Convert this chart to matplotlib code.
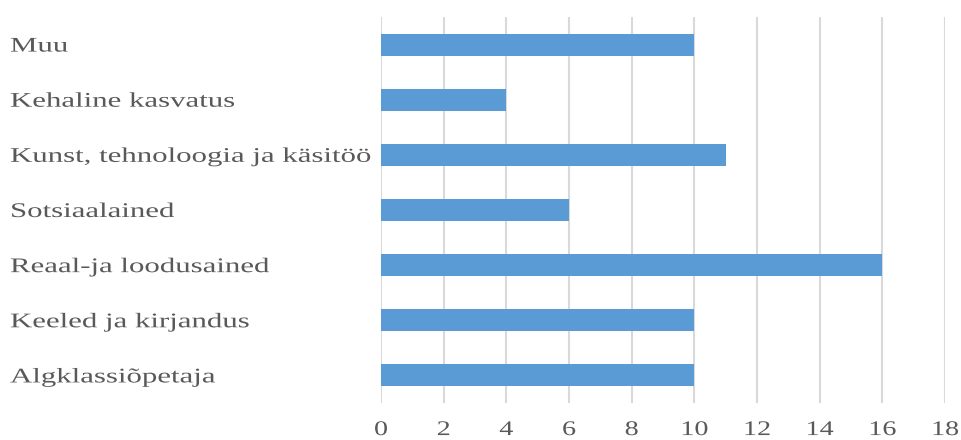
import matplotlib
matplotlib.use("Agg")
import matplotlib.pyplot as plt
from matplotlib.patheffects import AbstractPathEffect
from matplotlib.transforms import Affine2D

categories = [
    "Algklassiõpetaja",
    "Keeled ja kirjandus",
    "Reaal-ja loodusained",
    "Sotsiaalained",
    "Kunst, tehnoloogia ja käsitöö",
    "Kehaline kasvatus",
    "Muu",
]
values = [10, 10, 16, 6, 11, 4, 10]
x_ticks = [0, 2, 4, 6, 8, 10, 12, 14, 16, 18]


class HStretch(AbstractPathEffect):
    """Widen glyphs horizontally about a fixed display x position."""

    def __init__(self, sx, x0):
        super().__init__()
        self.sx = sx
        self.x0 = x0

    def draw_path(self, renderer, gc, tpath, affine, rgbFace=None):
        t = affine + Affine2D().translate(-self.x0, 0).scale(self.sx, 1).translate(self.x0, 0)
        renderer.draw_path(gc, tpath, t, rgbFace)


plt.rcParams["font.family"] = ["Liberation Serif", "DejaVu Serif"]

DPI = 100
fig = plt.figure(figsize=(9.61, 4.40), dpi=DPI)
ax = fig.add_axes([381 / 961, 1 - 403 / 440, (945 - 381) / 961, (403 - 17) / 440])

ypos = list(range(len(categories)))
ax.barh(ypos, values, height=0.4, color="#5b9bd5", zorder=3)

ax.set_xlim(0, 18)
ax.set_ylim(-0.5, len(categories) - 0.5)
ax.set_xticks(x_ticks)
ax.set_xticklabels([str(t) for t in x_ticks])
ax.set_yticks(ypos)
ax.set_yticklabels(categories)

ax.grid(axis="x", color="#d9d9d9", linewidth=1.5, zorder=0)
ax.grid(axis="y", visible=False)
for s in ax.spines.values():
    s.set_visible(False)

ax.tick_params(axis="both", length=0, colors="#595959", labelsize=15)
ax.tick_params(axis="x", pad=13)
label_left = 10
ax.tick_params(axis="y", pad=(381 - label_left) * 72 / DPI)
for lbl in ax.get_yticklabels():
    lbl.set_horizontalalignment("left")
    lbl.set_path_effects([HStretch(1.48, label_left)])

for t, lbl in zip(x_ticks, ax.get_xticklabels()):
    cx = ax.transData.transform((t, 0))[0]
    lbl.set_path_effects([HStretch(1.35, cx)])

fig.savefig("out.png", dpi=DPI, facecolor="white")
